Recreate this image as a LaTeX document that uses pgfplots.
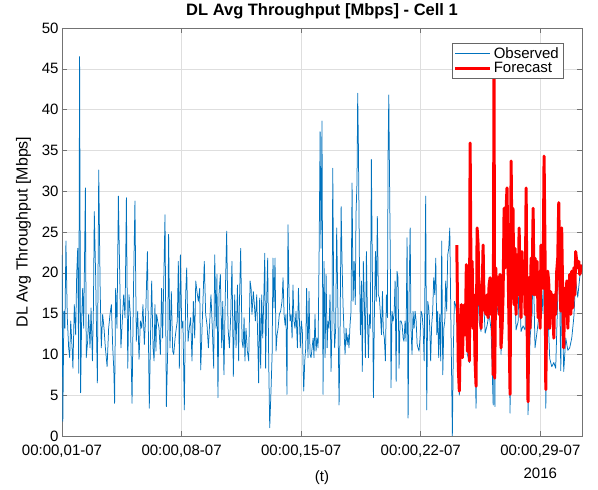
\documentclass[border=0pt]{standalone}
\usepackage{fontspec}
\setmainfont{Liberation Sans}
\usepackage{pgfplots}
\usepackage{pgfplotstable}
\pgfplotsset{compat=1.18}
\definecolor{mblue}{rgb}{0,0.447,0.741}

\pgfplotstableread{
d v
0.00 22.2
0.05 1.8
0.11 15.3
0.17 13.2
0.23 23.9
0.31 14.5
0.39 10.8
0.45 9.6
0.51 14.1
0.59 10.8
0.64 8.3
0.72 16.1
0.80 12.4
0.86 19.8
0.92 23.0
0.98 7.7
1.03 46.5
1.09 5.3
1.15 14.1
1.21 18.1
1.27 13.2
1.37 30.4
1.42 9.6
1.50 11.6
1.56 14.9
1.64 10.8
1.70 15.7
1.78 9.2
1.84 15.7
1.89 27.5
1.97 19.6
2.07 6.5
2.15 32.6
2.23 18.5
2.30 10.8
2.38 14.9
2.46 13.2
2.54 10.8
2.64 8.5
2.73 13.2
2.81 14.9
2.89 16.1
2.97 10.8
3.03 8.3
3.08 4.0
3.14 18.1
3.22 13.2
3.30 29.4
3.38 19.6
3.45 10.8
3.53 14.1
3.61 17.3
3.69 14.5
3.77 29.2
3.85 8.3
3.92 17.3
4.00 14.9
4.10 4.0
4.18 17.3
4.27 28.8
4.35 11.6
4.43 15.3
4.51 9.4
4.59 14.1
4.67 13.2
4.74 16.1
4.82 11.2
4.90 14.9
5.00 22.6
5.11 3.4
5.19 13.2
5.25 19.0
5.33 10.8
5.39 9.2
5.44 16.1
5.50 10.4
5.54 14.9
5.60 14.1
5.68 13.2
5.76 10.0
5.83 18.1
5.89 12.0
5.95 18.1
6.03 27.1
6.11 3.6
6.19 10.8
6.24 24.7
6.32 10.8
6.40 17.7
6.48 10.4
6.54 10.0
6.62 12.0
6.69 13.2
6.75 14.1
6.81 21.4
6.87 8.3
6.93 22.2
7.01 13.2
7.08 14.1
7.16 3.2
7.24 17.3
7.30 20.6
7.38 11.6
7.45 13.2
7.53 14.5
7.61 9.2
7.69 16.5
7.77 12.0
7.83 19.0
7.90 17.7
7.98 16.5
8.06 18.1
8.12 8.1
8.20 13.2
8.27 17.7
8.33 21.4
8.41 14.9
8.49 13.6
8.57 10.8
8.65 14.1
8.72 17.3
8.80 13.2
8.88 8.3
8.94 22.2
9.02 13.2
9.07 19.8
9.13 4.7
9.19 17.3
9.27 19.8
9.35 10.8
9.41 16.5
9.48 7.5
9.56 17.3
9.64 25.1
9.72 13.2
9.80 10.8
9.88 14.9
9.95 21.4
10.03 7.3
10.11 17.3
10.19 10.8
10.27 18.5
10.34 9.2
10.38 15.7
10.46 23.0
10.54 11.6
10.60 10.8
10.66 14.5
10.71 9.2
10.77 13.2
10.85 10.4
10.93 9.2
11.01 19.0
11.07 18.1
11.12 14.9
11.20 17.7
11.26 16.1
11.32 14.1
11.40 17.3
11.46 11.6
11.51 6.5
11.57 16.9
11.63 8.3
11.69 17.3
11.75 12.0
11.81 16.5
11.87 22.4
11.92 8.3
11.98 16.5
12.04 21.8
12.10 9.2
12.16 1.0
12.24 5.9
12.30 10.0
12.35 21.8
12.41 15.7
12.47 21.8
12.53 10.4
12.59 12.4
12.65 13.2
12.72 14.9
12.80 15.3
12.88 16.5
12.94 19.4
13.00 14.9
13.06 13.6
13.11 14.9
13.17 5.1
13.23 25.9
13.29 17.3
13.35 14.1
13.41 14.9
13.47 12.0
13.52 18.5
13.58 14.1
13.64 13.2
13.70 15.3
13.78 10.8
13.84 18.1
13.90 14.1
13.95 10.8
14.01 14.1
14.07 12.8
14.15 5.5
14.21 9.2
14.27 10.8
14.32 18.1
14.40 9.6
14.46 17.7
14.52 10.0
14.58 9.6
14.64 10.8
14.70 12.0
14.75 9.6
14.81 14.9
14.87 10.4
14.93 12.0
14.99 10.8
15.05 22.2
15.11 37.3
15.16 23.0
15.22 38.6
15.28 5.1
15.34 21.4
15.40 9.6
15.46 19.8
15.52 10.8
15.57 14.1
15.63 13.2
15.69 17.3
15.75 7.9
15.81 14.1
15.85 32.8
15.91 15.7
15.96 10.8
16.02 13.2
16.08 25.5
16.14 17.3
16.22 3.8
16.28 13.2
16.34 28.1
16.39 21.8
16.45 16.1
16.51 12.8
16.57 10.0
16.63 13.2
16.69 11.2
16.75 12.4
16.80 10.8
16.86 13.6
16.92 15.3
16.98 31.0
17.04 16.5
17.10 21.4
17.17 16.1
17.21 27.1
17.27 31.2
17.31 42.0
17.35 35.7
17.41 21.4
17.47 12.4
17.53 19.0
17.58 7.9
17.64 21.4
17.70 16.5
17.76 9.6
17.82 22.6
17.88 14.5
17.94 9.6
17.99 14.9
18.05 13.2
18.11 33.9
18.17 19.8
18.23 4.7
18.29 15.3
18.35 22.6
18.40 16.5
18.46 26.9
18.52 17.3
18.58 16.9
18.64 14.9
18.70 12.4
18.76 17.7
18.81 12.8
18.87 12.0
18.93 9.2
18.99 17.3
19.05 14.5
19.09 34.9
19.13 41.8
19.17 32.4
19.22 21.4
19.26 5.9
19.32 15.3
19.38 14.1
19.44 14.9
19.50 19.0
19.56 6.7
19.61 20.2
19.67 19.4
19.73 8.3
19.79 14.1
19.85 14.1
19.91 13.6
19.97 12.0
20.02 11.6
20.08 14.1
20.14 11.6
20.20 24.3
20.26 2.2
20.32 17.7
20.38 25.5
20.43 13.2
20.49 10.0
20.55 15.3
20.61 13.2
20.67 15.3
20.73 14.1
20.79 11.2
20.84 10.8
20.90 10.4
20.96 12.0
21.02 15.3
21.08 14.9
21.14 13.2
21.20 9.2
21.25 19.8
21.29 29.4
21.35 3.2
21.41 16.5
21.47 15.7
21.53 13.2
21.58 9.2
21.64 13.6
21.70 15.3
21.76 19.4
21.82 17.3
21.88 21.8
21.94 12.4
21.99 15.3
22.05 9.6
22.11 14.9
22.17 9.2
22.23 23.9
22.29 7.5
22.35 13.2
22.41 14.1
22.46 19.0
22.52 15.3
22.58 22.2
22.64 23.0
22.70 25.5
22.76 14.9
22.81 7.1
22.85 0.0
22.91 10.8
22.97 16.5
23.03 16.1
23.11 15.0
23.20 8.0
23.26 5.0
23.38 15.0
23.44 9.5
23.56 14.5
23.67 18.0
23.73 10.0
23.85 9.0
23.89 30.0
24.01 18.0
24.12 15.0
24.24 3.4
24.30 21.0
24.42 14.0
24.53 12.8
24.65 18.0
24.77 12.6
24.88 13.5
25.00 15.0
25.12 13.0
25.24 3.8
25.29 40.0
25.34 3.6
25.39 17.0
25.53 15.0
25.64 16.0
25.70 10.0
25.88 24.0
26.05 26.0
26.17 12.0
26.23 2.8
26.29 28.0
26.40 22.0
26.52 17.0
26.58 13.0
26.70 14.0
26.76 20.0
26.87 12.8
26.99 13.5
27.11 13.0
27.17 26.0
27.28 2.6
27.40 12.0
27.52 15.0
27.58 22.0
27.69 10.8
27.81 12.8
27.93 15.0
28.04 19.0
28.16 15.0
28.22 29.0
28.32 3.4
28.43 16.0
28.55 9.5
28.67 8.5
28.79 9.0
28.90 8.3
29.02 17.0
29.08 24.0
29.20 8.0
29.25 20.0
29.37 7.9
29.49 12.0
29.61 10.5
29.72 10.8
29.84 12.0
29.96 14.5
30.07 19.0
30.19 17.0
30.31 19.5
30.44 21.0
}\observed

\pgfplotstableread{
d v
23.11 23.4
23.20 8.3
23.26 5.5
23.32 13.2
23.38 16.1
23.44 9.6
23.50 14.1
23.56 16.1
23.61 12.4
23.67 21.0
23.73 10.4
23.79 14.5
23.85 9.2
23.89 35.9
23.95 17.3
24.01 21.4
24.06 13.2
24.12 17.3
24.18 9.2
24.24 6.1
24.30 25.5
24.36 23.4
24.42 16.1
24.47 18.5
24.53 13.2
24.59 16.5
24.65 23.4
24.71 15.7
24.77 15.3
24.83 14.9
24.88 17.3
24.94 14.5
25.00 18.5
25.06 19.4
25.12 14.9
25.18 19.0
25.24 7.5
25.29 46.0
25.33 7.1
25.39 20.6
25.47 16.1
25.53 19.4
25.59 14.9
25.64 19.8
25.70 10.8
25.76 13.2
25.82 17.3
25.88 27.9
25.94 20.6
26.00 27.9
26.05 30.4
26.11 21.4
26.17 13.2
26.23 5.1
26.29 33.7
26.35 21.4
26.40 27.9
26.46 16.1
26.52 23.0
26.58 14.9
26.64 22.2
26.70 17.3
26.76 25.5
26.81 19.0
26.87 14.5
26.93 22.6
26.99 17.7
27.05 21.4
27.11 14.9
27.17 30.4
27.22 14.9
27.28 4.2
27.34 19.4
27.40 13.2
27.46 21.8
27.52 18.5
27.58 27.9
27.63 17.3
27.69 21.8
27.75 17.3
27.81 21.4
27.87 14.5
27.93 18.5
27.99 13.2
28.04 23.4
28.10 19.8
28.16 18.1
28.22 34.3
28.28 21.4
28.32 5.7
28.38 16.5
28.43 20.2
28.49 19.0
28.55 13.2
28.61 17.7
28.67 14.5
28.73 17.3
28.79 12.0
28.84 17.3
28.90 14.9
28.96 20.2
29.02 21.8
29.08 28.6
29.14 19.0
29.20 15.3
29.25 25.5
29.31 17.3
29.37 10.8
29.43 18.1
29.49 14.9
29.55 19.0
29.61 13.2
29.66 16.9
29.72 19.8
29.78 14.9
29.84 20.2
29.90 15.7
29.96 20.6
30.02 17.3
30.07 22.6
30.13 21.4
30.19 20.6
30.25 21.4
30.31 19.8
30.44 21.0
}\forecast

\begin{document}
\begin{tikzpicture}
\begin{axis}[
  scale only axis,
  width=520pt, height=408pt,
  xmin=0, xmax=30.44, ymin=0, ymax=50,
  xtick={0,7,14,21,28},
  xticklabels={{00:00,01-07},{00:00,08-07},{00:00,15-07},{00:00,22-07},{00:00,29-07\\2016}},
  ytick={0,5,...,50},
  xticklabel style={font=\fontsize{15}{23}\selectfont, align=center, anchor=north, yshift=-5pt},
  yticklabel style={font=\fontsize{15}{18}\selectfont, /pgf/number format/assume math mode=true},
  tick align=inside,
  major tick length=5pt,
  tick style={black!55, line width=0.5pt},
  axis line style={black!55, line width=0.6pt},
  grid=major,
  major grid style={black!13, line width=0.5pt},
  title={\bfseries DL Avg Throughput [Mbps] - Cell 1},
  title style={font=\fontsize{16.5}{19}\selectfont, yshift=-1pt},
  ylabel={DL Avg Throughput [Mbps]},
  ylabel style={font=\fontsize{16}{19}\selectfont},
  ylabel shift=4pt,
  xlabel={(t)},
  xlabel style={font=\fontsize{15}{18}\selectfont, at={(axis description cs:0.5,0)}, anchor=base, yshift=-46pt},
  legend style={at={(1,1)}, anchor=north east, xshift=-19pt, yshift=-15pt,
    draw=black!60, fill=white, font=\fontsize{15}{17}\selectfont,
    inner sep=2pt, row sep=-1pt},
  legend cell align=left,
  legend image code/.code={\draw[#1] (0pt,0pt) -- (35pt,0pt);},
]
\addplot[mblue, line width=0.75pt, line join=round] table[x=d, y=v] {\observed};
\addlegendentry{Observed}
\addplot[red, line width=3pt, line join=round] table[x=d, y=v] {\forecast};
\addlegendentry{Forecast}
\end{axis}
\pgfresetboundingbox
\useasboundingbox ([shift={(-62pt,-54pt)}]current axis.south west) rectangle ([shift={(16pt,28pt)}]current axis.north east);
\end{tikzpicture}
\end{document}
